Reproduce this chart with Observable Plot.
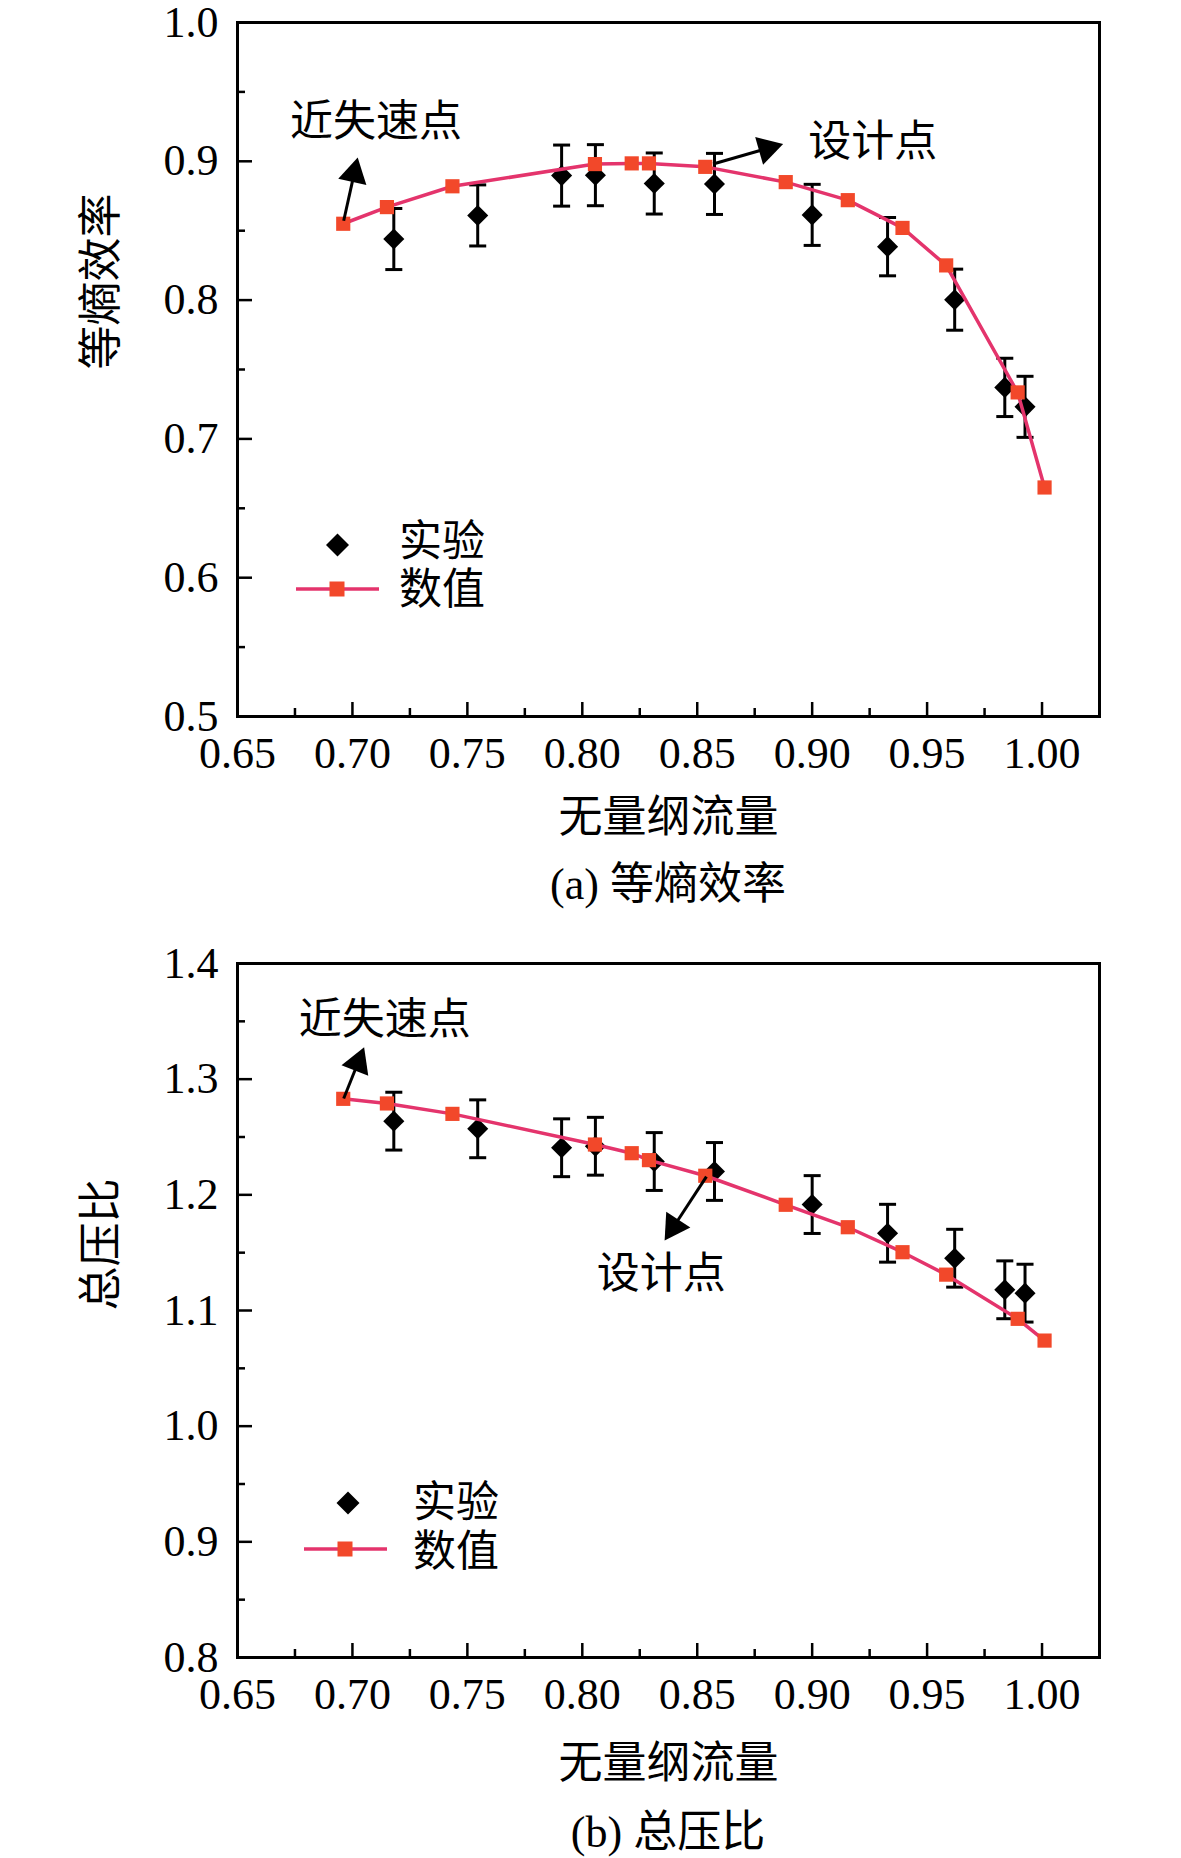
<!DOCTYPE html>
<html><head><meta charset="utf-8">
<script src="https://cdn.jsdelivr.net/npm/d3@7"></script>
<script src="https://cdn.jsdelivr.net/npm/@observablehq/plot@0.6"></script>
<style>
body{margin:0;background:#fff;}
#wrap{position:relative;width:1181px;}
.panel{position:relative;width:1181px;}
.panel svg.plot{display:block;}
.cap{margin-left:237px;width:862px;height:70px;line-height:70px;text-align:center;font-family:"Liberation Serif","Noto Sans CJK SC";font-size:44px;color:#000;}
.legend{position:absolute;left:0;top:0;overflow:visible;}
</style></head><body><div id="wrap"></div>
<script>
// ---------- data ----------
const numFlow = [0.696, 0.715, 0.7435, 0.8055, 0.8215, 0.829, 0.8535, 0.8885, 0.9155, 0.9393, 0.9583, 0.9894, 1.0011];
const effNum  = [0.855, 0.867, 0.882, 0.898, 0.8985, 0.8985, 0.896, 0.885, 0.872, 0.852, 0.825, 0.7335, 0.665];
const prNum   = [1.283, 1.279, 1.270, 1.2435, 1.236, 1.230, 1.2165, 1.1914, 1.172, 1.1504, 1.131, 1.0928, 1.074];

const expFlow = [0.718, 0.7545, 0.791, 0.8057, 0.8313, 0.8575, 0.900, 0.9328, 0.962, 0.9838, 0.9926];
const effExp  = [0.844, 0.861, 0.8897, 0.890, 0.884, 0.8837, 0.8614, 0.8385, 0.8003, 0.7371, 0.7231];
const effErr  = [0.022, 0.022, 0.022, 0.022, 0.022, 0.022, 0.022, 0.021, 0.022, 0.021, 0.022];
const prExp   = [1.2637, 1.2571, 1.2407, 1.242, 1.2288, 1.2202, 1.1916, 1.1668, 1.1452, 1.1179, 1.115];
const prErr   = [0.025, 0.025, 0.025, 0.025, 0.025, 0.025, 0.025, 0.025, 0.025, 0.025, 0.025];

const xMajor = [0.65, 0.70, 0.75, 0.80, 0.85, 0.90, 0.95, 1.00];
const xMinor = [0.675, 0.725, 0.775, 0.825, 0.875, 0.925, 0.975];
const effMajor = [0.5, 0.6, 0.7, 0.8, 0.9, 1.0];
const effMinor = [0.55, 0.65, 0.75, 0.85, 0.95];
const prMajor = [0.8, 0.9, 1.0, 1.1, 1.2, 1.3, 1.4];
const prMinor = [0.85, 0.95, 1.05, 1.15, 1.25, 1.35];

// annotations: label position + arrow (from -> tip)
const annEff = [
  {label: "近失速点", tx: 0.7102, ty: 0.9279, x1: 0.6962, y1: 0.8572, x2: 0.7023, y2: 0.9027},
  {label: "设计点",   tx: 0.9264, ty: 0.9135, x1: 0.8569, y1: 0.8981, x2: 0.8874, y2: 0.9125}
];
const annPr = [
  {label: "近失速点", tx: 0.7141, ty: 1.3507, x1: 0.6962, y1: 1.2833, x2: 0.7051, y2: 1.3276},
  {label: "设计点",   tx: 0.8344, ty: 1.1311, x1: 0.8540, y1: 1.2158, x2: 0.8358, y2: 1.1605}
];

const xLabel = "无量纲流量";
const legendLabels = ["实验", "数值"];

const LINE = "#e4346c", SQ = "#f2482a";
const FONT = '"Liberation Serif", "Noto Sans CJK SC"';

// horizontal cap symbol for error bars
const capSymbol = {draw(ctx, size) { const w = Math.sqrt(size) / 2; ctx.moveTo(-w, 0); ctx.lineTo(w, 0); }};

function panel(o) {
  const W = 1181, ML = 237, MR = 82;
  const innerW = W - ML - MR, innerH = o.height - o.mt - o.mb;
  const xDomain = [0.65, 1.025];
  const kx = innerW / (xDomain[1] - xDomain[0]);
  const ky = innerH / (o.yDomain[1] - o.yDomain[0]);
  const ann = o.ann.map(a => {
    const dxp = (a.x2 - a.x1) * kx, dyp = -(a.y2 - a.y1) * ky;
    const L = Math.hypot(dxp, dyp), ux = dxp / L, uy = dyp / L;
    const c = 16.7, s = 18;
    return {...a,
      hx: a.x2 - ux * c / kx, hy: a.y2 + uy * c / ky,
      sx: a.x2 - ux * s / kx, sy: a.y2 + uy * s / ky,
      rot: Math.atan2(dxp, -dyp) * 180 / Math.PI};
  });
  const num = numFlow.map((x, i) => ({x, y: o.num[i]}));
  const exp = expFlow.map((x, i) => ({x, y: o.exp[i], lo: o.exp[i] - o.err[i], hi: o.exp[i] + o.err[i]}));
  const chart = Plot.plot({
    width: W, height: o.height,
    marginLeft: ML, marginRight: MR, marginTop: o.mt, marginBottom: o.mb,
    style: {fontFamily: FONT, background: "white", color: "black", overflow: "visible"},
    x: {domain: xDomain},
    y: {domain: o.yDomain},
    marks: [
      Plot.tickY(o.yMajor, {y: d => d, insetRight: innerW - 15, stroke: "black", strokeWidth: 2.5}),
      Plot.tickY(o.yMinor, {y: d => d, insetRight: innerW - 8, stroke: "black", strokeWidth: 2.5}),
      Plot.tickX(xMajor, {x: d => d, insetTop: innerH - 14, stroke: "black", strokeWidth: 2.5}),
      Plot.tickX(xMinor, {x: d => d, insetTop: innerH - 8, stroke: "black", strokeWidth: 2.5}),
      Plot.axisY(o.yMajor, {tickSize: 0, tickPadding: 19, tickFormat: d3.format(".1f"), fontSize: 44, label: null}),
      Plot.axisX(xMajor, {tickSize: 0, tickPadding: 20, tickFormat: d3.format(".2f"), fontSize: 44, label: null}),
      Plot.text([xLabel], {text: d => d, frameAnchor: "bottom", dy: o.xlDy, fontSize: 44, lineAnchor: "middle"}),
      Plot.text([o.yLabel], {text: d => d, frameAnchor: "left", dx: -136, rotate: -90, fontSize: 44, lineAnchor: "middle"}),
      Plot.link(exp, {x1: "x", x2: "x", y1: "lo", y2: "hi", stroke: "black", strokeWidth: 3}),
      Plot.dot(exp, {x: "x", y: "lo", symbol: capSymbol, r: 9.6, stroke: "black", strokeWidth: 3, fill: "none"}),
      Plot.dot(exp, {x: "x", y: "hi", symbol: capSymbol, r: 9.6, stroke: "black", strokeWidth: 3, fill: "none"}),
      Plot.dot(exp, {x: "x", y: "y", symbol: "diamond2", r: 9.5, fill: "black", stroke: "none"}),
      Plot.line(num, {x: "x", y: "y", stroke: LINE, strokeWidth: 3.5}),
      Plot.dot(num, {x: "x", y: "y", symbol: "square", r: 8, fill: SQ, stroke: "none"}),
      Plot.link(ann, {x1: "x1", y1: "y1", x2: "sx", y2: "sy", stroke: "black", strokeWidth: 3}),
      Plot.dot(ann, {x: "hx", y: "hy", symbol: "triangle", r: 10.7, rotate: "rot", fill: "black", stroke: "none"}),
      Plot.text(ann, {x: "tx", y: "ty", text: "label", fontSize: 43, lineAnchor: "middle"}),
      Plot.frame({stroke: "black", strokeWidth: 3})
    ]
  });
  chart.classList.add("plot");
  const div = document.createElement("div");
  div.className = "panel";
  div.appendChild(chart);
  // legend
  const L = o.leg;
  const ns = "http://www.w3.org/2000/svg";
  const lg = document.createElementNS(ns, "svg");
  lg.setAttribute("class", "legend");
  lg.setAttribute("width", 600); lg.setAttribute("height", 700);
  const hd = 11.5;
  lg.innerHTML =
    `<path d="M${L.dx},${L.dy - hd}L${L.dx + hd},${L.dy}L${L.dx},${L.dy + hd}L${L.dx - hd},${L.dy}Z" fill="black"/>` +
    `<line x1="${L.lx1}" x2="${L.lx2}" y1="${L.ly}" y2="${L.ly}" stroke="${LINE}" stroke-width="3.5"/>` +
    `<rect x="${L.sx - 7.5}" y="${L.ly - 7.5}" width="15" height="15" fill="${SQ}"/>` +
    `<text x="${L.tx}" y="${L.t1}" font-size="43" dominant-baseline="central" font-family='${FONT}'>${legendLabels[0]}</text>` +
    `<text x="${L.tx}" y="${L.t2}" font-size="43" dominant-baseline="central" font-family='${FONT}'>${legendLabels[1]}</text>`;
  div.appendChild(lg);
  const cap = document.createElement("div");
  cap.className = "cap";
  cap.textContent = o.caption;
  div.appendChild(cap);
  document.getElementById("wrap").appendChild(div);
}

panel({
  height: 850, mt: 22, mb: 134, yDomain: [0.5, 1.0],
  yMajor: effMajor, yMinor: effMinor,
  num: effNum, exp: effExp, err: effErr, ann: annEff,
  yLabel: "等熵效率", xlDy: 101, caption: "(a) 等熵效率",
  leg: {dx: 337.5, dy: 545, lx1: 296, lx2: 379, ly: 589, sx: 337, tx: 399, t1: 541, t2: 589}
});
panel({
  height: 878, mt: 43, mb: 141, yDomain: [0.8, 1.4],
  yMajor: prMajor, yMinor: prMinor,
  num: prNum, exp: prExp, err: prErr, ann: annPr,
  yLabel: "总压比", xlDy: 106, caption: "(b) 总压比",
  leg: {dx: 348, dy: 583, lx1: 304, lx2: 387, ly: 629, sx: 345, tx: 413, t1: 582, t2: 631}
});
</script>
</body></html>
